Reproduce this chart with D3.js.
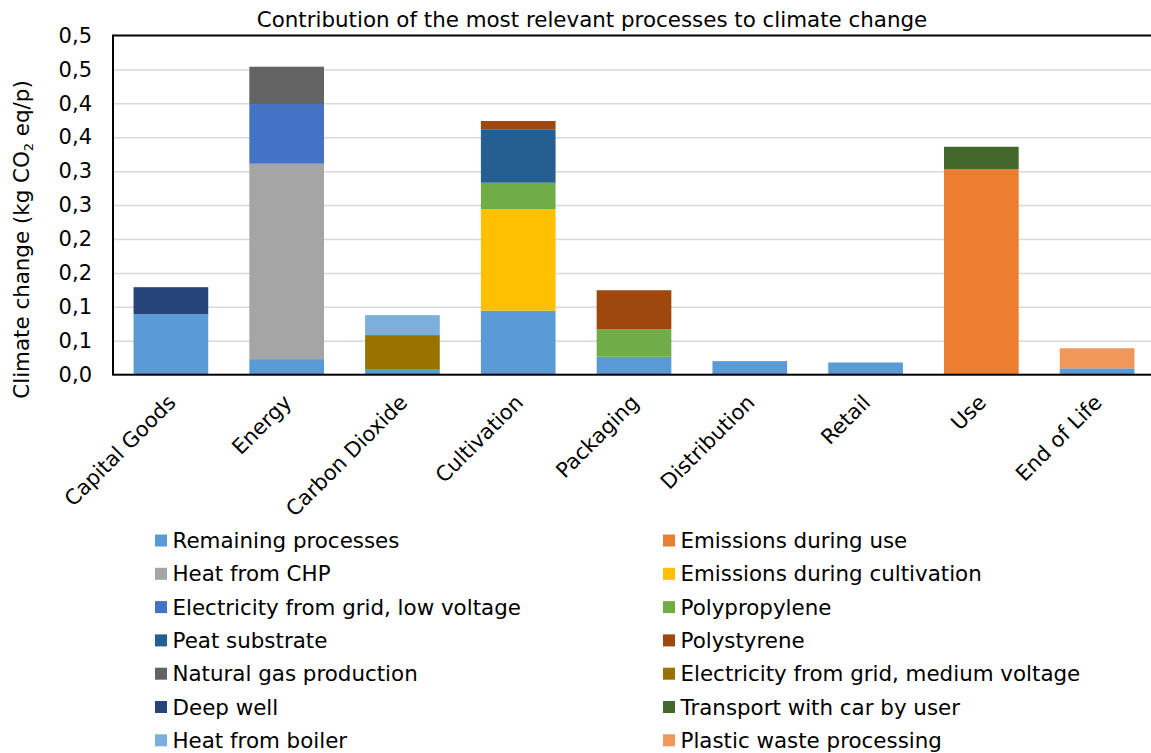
<!DOCTYPE html>
<html>
<head>
<meta charset="utf-8">
<script src="https://cdn.jsdelivr.net/npm/d3@7"></script>
<style>
  html, body { margin: 0; padding: 0; background: #fff; }
  svg { display: block; font-family: "DejaVu Sans", Verdana, sans-serif; }
</style>
</head>
<body>
<svg id="chart" width="1151" height="753"></svg>
<script>
// Life-cycle stages on the x axis
const stages = ["Capital Goods", "Energy", "Carbon Dioxide", "Cultivation", "Packaging",
                "Distribution", "Retail", "Use", "End of Life"];

// Contribution per process, kg CO2 eq per portion, one value per stage
const remainingProcesses      = [0.0895, 0.023, 0.0084, 0.0944, 0.0265, 0.020, 0.018, 0, 0.0094];
const emissionsDuringUse      = [0, 0, 0, 0, 0, 0, 0, 0.303, 0];
const heatFromCHP             = [0, 0.288, 0, 0, 0, 0, 0, 0, 0];
const emissionsCultivation    = [0, 0, 0, 0.1496, 0, 0, 0, 0, 0];
const electricityLowVoltage   = [0, 0.088, 0, 0, 0, 0, 0, 0, 0];
const polypropylene           = [0, 0, 0, 0.039, 0.0405, 0, 0, 0, 0];
const peatSubstrate           = [0, 0, 0, 0.078, 0, 0, 0, 0, 0];
const polystyrene             = [0, 0, 0, 0.013, 0.0575, 0, 0, 0, 0];
const naturalGasProduction    = [0, 0.055, 0, 0, 0, 0, 0, 0, 0];
const electricityMediumVolt   = [0, 0, 0.050, 0, 0, 0, 0, 0, 0];
const deepWell                = [0.0395, 0, 0, 0, 0, 0, 0, 0, 0];
const transportCarByUser      = [0, 0, 0, 0, 0, 0, 0, 0.033, 0];
const heatFromBoiler          = [0, 0, 0.0294, 0, 0, 0, 0, 0, 0];
const plasticWasteProcessing  = [0, 0, 0, 0, 0, 0, 0, 0, 0.0296];

// Series names in stacking order
const seriesNames = [
  "Remaining processes", "Emissions during use",
  "Heat from CHP", "Emissions during cultivation",
  "Electricity from grid, low voltage", "Polypropylene",
  "Peat substrate", "Polystyrene",
  "Natural gas production", "Electricity from grid, medium voltage",
  "Deep well", "Transport with car by user",
  "Heat from boiler", "Plastic waste processing"
];
const seriesValues = [
  remainingProcesses, emissionsDuringUse, heatFromCHP, emissionsCultivation,
  electricityLowVoltage, polypropylene, peatSubstrate, polystyrene,
  naturalGasProduction, electricityMediumVolt, deepWell, transportCarByUser,
  heatFromBoiler, plasticWasteProcessing
];
const seriesColors = [
  "#5B9BD5", "#ED7D31", "#A5A5A5", "#FFC000", "#4472C4", "#70AD47", "#255E91",
  "#9E480E", "#636363", "#997300", "#264478", "#43682B", "#7CAFDD", "#F1975A"
];

// Tick values and their printed labels (one decimal, comma separator)
const yTicks = [0, 0.05, 0.10, 0.15, 0.20, 0.25, 0.30, 0.35, 0.40, 0.45, 0.50];
const yTickLabels = ["0,0", "0,1", "0,1", "0,2", "0,2", "0,3", "0,3", "0,4", "0,4", "0,5", "0,5"];

const title = "Contribution of the most relevant processes to climate change";

// ---- layout ----
const svg = d3.select("#chart");
const plot = { left: 113, right: 1155, top: 35.5, bottom: 374.7 };
const fontSize = 21.4;

const rows = stages.map((s, i) => {
  const r = { stage: s };
  seriesNames.forEach((n, k) => { r[n] = seriesValues[k][i]; });
  return r;
});

const x = d3.scaleBand().domain(stages).range([plot.left, plot.right])
  .paddingInner(0.355).paddingOuter(0.1775);
const y = d3.scaleLinear().domain([0, 0.5]).range([plot.bottom, plot.top]);
const color = d3.scaleOrdinal().domain(seriesNames).range(seriesColors);

// horizontal gridlines
svg.append("g")
  .attr("transform", `translate(${plot.left},0)`)
  .call(d3.axisLeft(y).tickValues(yTicks.slice(1, -1)).tickSize(-(plot.right - plot.left)).tickFormat(""))
  .call(g => g.select(".domain").remove())
  .call(g => g.selectAll("line").attr("stroke", "#D9D9D9").attr("stroke-width", 1.5));

// stacked bars
const stacked = d3.stack().keys(seriesNames)(rows);
svg.append("g").selectAll("g").data(stacked).join("g")
  .attr("fill", d => color(d.key))
  .selectAll("rect").data(d => d.filter(p => p[1] - p[0] > 0)).join("rect")
  .attr("x", d => x(d.data.stage))
  .attr("width", x.bandwidth())
  .attr("y", d => y(d[1]))
  .attr("height", d => y(d[0]) - y(d[1]));

// plot frame
svg.append("rect")
  .attr("x", plot.left).attr("y", plot.top)
  .attr("width", plot.right - plot.left).attr("height", plot.bottom - plot.top)
  .attr("fill", "none").attr("stroke", "#000").attr("stroke-width", 2);

// y axis labels
const yAxis = svg.append("g")
  .attr("transform", `translate(${plot.left},0)`)
  .call(d3.axisLeft(y).tickValues(yTicks).tickSize(0).tickPadding(21)
    .tickFormat((d, i) => yTickLabels[i]));
yAxis.select(".domain").remove();
yAxis.selectAll("text").attr("font-size", 21).attr("fill", "#000")
  .attr("font-family", "DejaVu Sans, Verdana, sans-serif");

// x axis labels, rotated
const xAxis = svg.append("g")
  .attr("transform", `translate(0,${plot.bottom})`)
  .call(d3.axisBottom(x).tickSize(0).tickFormat(d => d));
xAxis.select(".domain").remove();
xAxis.selectAll("text")
  .attr("font-size", 21).attr("fill", "#000")
  .attr("font-family", "DejaVu Sans, Verdana, sans-serif")
  .attr("text-anchor", "end")
  .attr("dy", 0)
  .attr("transform", "translate(4,27) rotate(-45)");

// title
svg.append("text")
  .attr("x", 592).attr("y", 27)
  .attr("text-anchor", "middle").attr("font-size", fontSize).attr("fill", "#000")
  .text(title);

// y axis title with subscript
const yt = svg.append("text")
  .attr("transform", "translate(29,239.5) rotate(-90)")
  .attr("text-anchor", "middle").attr("font-size", fontSize).attr("fill", "#000");
yt.append("tspan").text("Climate change (kg CO");
yt.append("tspan").attr("font-size", 13).attr("dy", 4).text("2");
yt.append("tspan").attr("dy", -4).text(" eq/p)");

// legend, two columns filled row by row
const legend = svg.append("g").selectAll("g").data(seriesNames).join("g")
  .attr("transform", (d, i) => `translate(${i % 2 === 0 ? 155 : 663},${540.5 + Math.floor(i / 2) * 33.3})`);
legend.append("rect")
  .attr("x", 0).attr("y", -6).attr("width", 12).attr("height", 12)
  .attr("fill", d => color(d));
legend.append("text")
  .attr("x", 17.5).attr("dy", "0.35em")
  .attr("font-size", fontSize).attr("fill", "#000")
  .text(d => d);
</script>
</body>
</html>
